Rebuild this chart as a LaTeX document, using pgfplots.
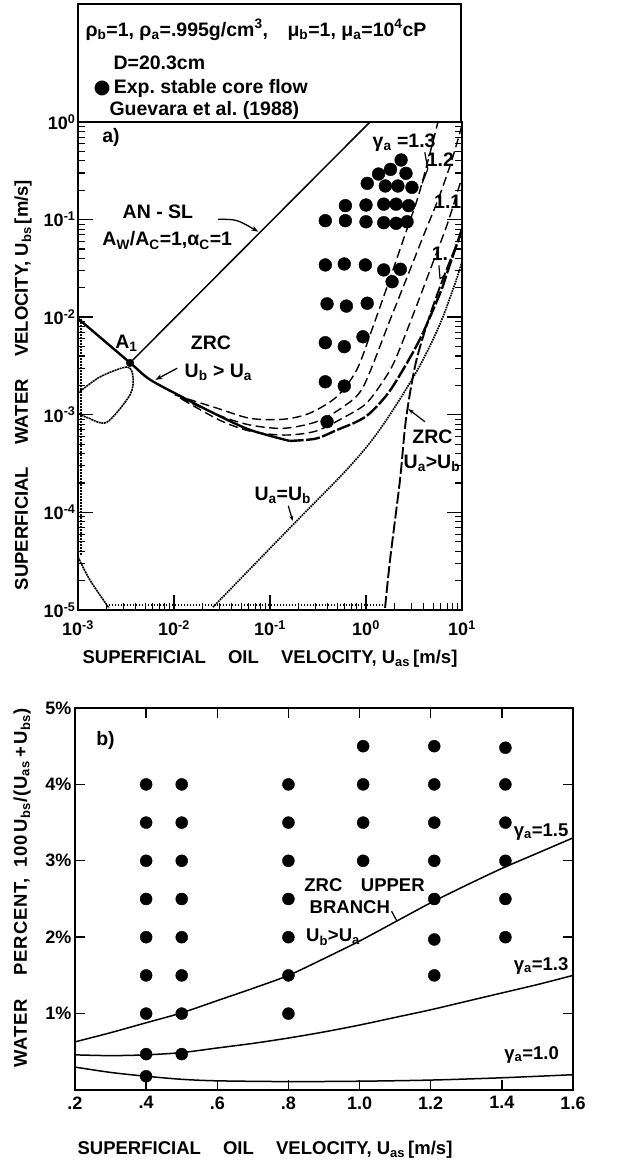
\documentclass[border=0pt]{standalone}
\usepackage{pgfplots}
\pgfplotsset{compat=1.18}
\usepackage{fontspec}
\setmainfont{Liberation Sans}
\newfontfamily\symfont{DejaVu Sans}
\usetikzlibrary{arrows.meta}

\newcommand{\lab}{\fontsize{18.5}{21}\selectfont\bfseries}
\newcommand{\tck}{\fontsize{18}{20}\selectfont\bfseries}
\newcommand{\ann}{\fontsize{19.5}{22}\selectfont\bfseries}
\newcommand{\hdr}{\fontsize{19.5}{22}\selectfont\bfseries}
\newcommand{\sub}[1]{\textsubscript{#1}}
\newcommand{\sps}[1]{\textsuperscript{#1}}

\begin{document}
\begin{tikzpicture}[font=\ann]
\useasboundingbox (0pt,0pt) rectangle (626pt,1165pt);

% ---------------- header box ----------------
\draw[line width=1.6pt] (78pt,1043pt) rectangle (461pt,1161pt);
\node[anchor=west,font=\hdr] at (82pt,1135pt) {ρ\sub{b}=1, ρ\sub{a}=.995g/cm\sps{3},\quad μ\sub{b}=1, μ\sub{a}=10\sps{4}cP};
\node[anchor=west,font=\hdr] at (110pt,1102pt) {D=20.3cm};
\node[anchor=west,font=\hdr] at (90pt,1077pt) {{\symfont ●}\,Exp.\ stable core flow};
\node[anchor=west,font=\hdr] at (106pt,1055pt) {Guevara et al.\ (1988)};

% ---------------- panel a ----------------
\begin{axis}[
  at={(78pt,555pt)}, anchor=south west,
  scale only axis, width=384pt, height=488pt,
  xmode=log, ymode=log,
  xmin=1e-3, xmax=10, ymin=1e-5, ymax=1,
  axis line style={line width=1.9pt},
  tick align=inside, tick style={black},
  xtick pos=left, ytick pos=both,
  major tick length=15pt, minor tick length=7pt,
  every major tick/.append style={line width=1.4pt},
  every minor tick/.append style={line width=1.1pt},
  xtick={1e-3,1e-2,1e-1,1,10},
  xticklabels={10\sps{-3},10\sps{-2},10\sps{-1},10\sps{0},10\sps{1}},
  ytick={1e-5,1e-4,1e-3,1e-2,1e-1,1},
  yticklabels={10\sps{-5},10\sps{-4},10\sps{-3},10\sps{-2},10\sps{-1},10\sps{0}},
  tick label style={font=\tck},
  xticklabel style={yshift=-7pt},
  yticklabel style={xshift=1pt},
]
% AN-SL line
\addplot[line width=1.5pt] coordinates {(0.00348,0.0034) (1.10,1.0)};
% ZRC, U_b > U_a, gamma_a = 1
\addplot[line width=2.4pt, smooth] coordinates {
  (0.001,0.0097) (0.0035,0.0034) (0.0056,0.0023) (0.0125,0.0015)
  (0.028,0.001) (0.062,0.0007) (0.16,0.00054)};
\addplot[line width=2.4pt, smooth, dash pattern=on 14pt off 2.5pt] coordinates {
  (0.16,0.00054) (0.3,0.00057) (0.5,0.0007) (0.8,0.00085) (1.1,0.00104)
  (1.8,0.0018) (3.5,0.0055) (5.9,0.0175) (7,0.0285) (10,0.08)};
% gamma_a = 1.1, 1.2, 1.3
\addplot[line width=1.4pt, smooth, dash pattern=on 9pt off 4.5pt] coordinates {
  (0.012,0.00145) (0.03,0.00088) (0.062,0.00068) (0.14,0.00062) (0.3,0.00068)
  (0.6,0.00095) (1.0,0.0013) (1.5,0.0022) (2.0,0.0036) (3.24,0.0119)
  (4.87,0.0343) (6.98,0.088) (9.08,0.2) (10,0.27)};
\addplot[line width=1.4pt, smooth, dash pattern=on 9pt off 4.5pt] coordinates {
  (0.01155,0.00149) (0.03,0.00098) (0.062,0.000786) (0.138,0.000727)
  (0.306,0.00085) (0.58,0.00121) (0.937,0.00194) (1.78,0.00936)
  (2.87,0.0305) (4.12,0.075) (5.7,0.165) (7.8,0.4) (10,0.93)};
\addplot[line width=1.4pt, smooth, dash pattern=on 9pt off 4.5pt] coordinates {
  (0.0102,0.0016) (0.028,0.00117) (0.062,0.00092) (0.138,0.0009)
  (0.26,0.00104) (0.495,0.00153) (0.8,0.00288) (1.155,0.0075)
  (1.78,0.025) (2.55,0.07) (3.48,0.17) (4.64,0.48) (5.62,1.0)};
% U_a = U_b
\addplot[line width=1.7pt, smooth, dash pattern=on 1.6pt off 0.9pt] coordinates {
  (0.0255,1.07e-5) (0.174,7.5e-5) (0.6,2.6e-4) (1.155,5.5e-4) (2.0,1.2e-3)
  (3.65,3.2e-3) (5.9,8.5e-3) (8.45,0.022) (10,0.037)};
% ZRC, U_a > U_b
\addplot[line width=1.9pt, smooth, dash pattern=on 12pt off 3pt] coordinates {
  (1.58,1.05e-5) (1.78,3.25e-5) (2.26,2.15e-4) (2.61,9e-4) (3.3,3.4e-3)
  (4.64,0.0105) (6.65,0.028) (10,0.075)};
% lower-left boundaries
\addplot[line width=1.6pt, smooth, dash pattern=on 2pt off 0.7pt] coordinates {
  (0.001,0.00167) (0.00169,0.00244) (0.00324,0.00309) (0.00374,0.00244)
  (0.00348,0.0016) (0.002,0.00084) (0.00127,0.00093) (0.001,0.00104)};
\addplot[line width=1.6pt, smooth, dash pattern=on 2pt off 0.7pt] coordinates {
  (0.001,3.5e-5) (0.00133,2.03e-5) (0.0021,1.05e-5)};
\addplot[line width=1.8pt, dash pattern=on 1.2pt off 1.8pt] coordinates {
  (0.00107,0.0095) (0.00107,3.6e-5)};
\addplot[line width=1.8pt, dash pattern=on 1.2pt off 1.8pt] coordinates {
  (0.0021,1.12e-5) (1.5,1.12e-5)};
% experimental stable core flow
\addplot[only marks, mark=*, mark size=6.4pt, black] coordinates {
  (2.32,0.408)
  (1.35,0.293) (1.80,0.327) (2.61,0.298)
  (1.03,0.235) (1.59,0.221) (2.15,0.221) (3.01,0.214)
  (0.61,0.139) (1.00,0.141) (1.53,0.144) (2.06,0.144) (2.78,0.139)
  (0.377,0.0975) (0.61,0.0975) (1.00,0.095) (1.53,0.093) (2.06,0.0916) (2.68,0.095)
  (0.377,0.0343) (0.594,0.0351) (0.984,0.0343) (1.53,0.0305) (2.28,0.031) (1.87,0.0231)
  (0.393,0.0137) (0.625,0.013) (1.03,0.0139)
  (0.377,0.00548) (0.594,0.00499) (0.93,0.0063)
  (0.377,0.00218) (0.594,0.00197)
  (0.393,0.00085)};
% point A1
\addplot[only marks, mark=*, mark size=3.8pt, black] coordinates {(0.00348,0.0034)};

\node at (axis cs:0.0032,0.0054) {A\sub{1}};
\node[anchor=west] at (axis cs:0.00165,0.69) {a)};
\node at (axis cs:0.0068,0.12) {AN - SL};
\node at (axis cs:0.0085,0.061) {A\sub{W}/A\sub{C}=1,α\sub{C}=1};
\draw[line width=1.3pt,-{Stealth[length=7pt,width=5pt]}] (axis cs:0.0289,0.1007) .. controls (axis cs:0.045,0.1007) .. (axis cs:0.0755,0.0752);
\node at (axis cs:0.0243,0.0055) {ZRC};
\node at (axis cs:0.029,0.0027) {U\sub{b} > U\sub{a}};
\draw[line width=1.3pt,-{Stealth[length=7pt,width=5pt]}] (axis cs:0.0108,0.003) -- (axis cs:0.0064,0.00228);
\node[anchor=west] at (axis cs:1.08,0.62) {γ\sub{a} =1.3};
\draw[line width=1.2pt] (axis cs:4.1,0.49) -- (axis cs:4.4,0.33) -- (axis cs:3.85,0.235);
\node at (axis cs:5.95,0.41) {1.2};
\node at (axis cs:7.1,0.151) {1.1};
\node at (axis cs:5.9,0.045) {1.};
\draw[line width=1.2pt,-{Stealth[length=5pt,width=4pt]}] (axis cs:5.75,0.034) -- (axis cs:5.9,0.025) -- (axis cs:6.9,0.0265);
\node at (axis cs:0.136,1.5e-4) {U\sub{a}=U\sub{b}};
\draw[line width=1.2pt,-{Stealth[length=5pt,width=4pt]}] (axis cs:0.155,1.17e-4) -- (axis cs:0.172,8.2e-5);
\node[anchor=west] at (axis cs:2.8,5.9e-4) {ZRC};
\node[anchor=east,inner sep=1pt] at (axis cs:9.85,3.2e-4) {U\sub{a}>U\sub{b}};
\draw[line width=1.2pt,-{Stealth[length=6pt,width=4pt]}] (axis cs:4.1,8.5e-4) -- (axis cs:2.75,1.15e-3);
\end{axis}

\node[font=\lab] at (270pt,506pt) {SUPERFICIAL\hspace{1.2em}OIL\hspace{1.2em}VELOCITY, U\sub{as}\,[m/s]};
\node[font=\lab,rotate=90] at (23pt,780pt) {SUPERFICIAL\hspace{1.2em}WATER\hspace{1.2em}VELOCITY, U\sub{bs}\,[m/s]};

% ---------------- panel b ----------------
\begin{axis}[
  at={(75pt,75pt)}, anchor=south west,
  scale only axis, width=498pt, height=382pt,
  xmin=0.2, xmax=1.6, ymin=0, ymax=5,
  axis line style={line width=1.7pt},
  tick align=inside, tick style={black},
  major tick length=10pt,
  every major tick/.append style={line width=1.4pt},
  xtick={0.2,0.4,0.6,0.8,1.0,1.2,1.4,1.6},
  xticklabels={.2,.4,.6,.8,1.0,1.2,1.4,1.6},
  ytick={1,2,3,4,5},
  yticklabels={1\%,2\%,3\%,4\%,5\%},
  tick label style={font=\tck},
  xticklabel style={yshift=-3pt},
]
% gamma_a = 1.5 (ZRC upper branch)
\addplot[line width=1.5pt, smooth] coordinates {
  (0.2,0.63) (0.3,0.75) (0.4,0.88) (0.5,1.01) (0.6,1.17) (0.7,1.33) (0.8,1.5)
  (0.9,1.72) (1.0,1.95) (1.1,2.2) (1.2,2.45) (1.3,2.68) (1.4,2.9) (1.5,3.1) (1.6,3.3)};
% gamma_a = 1.3
\addplot[line width=1.5pt, smooth] coordinates {
  (0.2,0.46) (0.3,0.45) (0.4,0.46) (0.5,0.49) (0.6,0.55) (0.7,0.61) (0.8,0.68)
  (0.9,0.76) (1.0,0.85) (1.1,0.95) (1.2,1.05) (1.3,1.16) (1.4,1.27) (1.5,1.38) (1.6,1.5)};
% gamma_a = 1.0
\addplot[line width=1.5pt, smooth] coordinates {
  (0.2,0.3) (0.3,0.23) (0.4,0.18) (0.5,0.14) (0.6,0.12) (0.8,0.11)
  (1.0,0.115) (1.2,0.13) (1.4,0.16) (1.6,0.2)};
% experimental stable core flow
\addplot[only marks, mark=*, mark size=6pt, black] coordinates {
  (0.40,4) (0.40,3.5) (0.40,3) (0.40,2.5) (0.40,2) (0.40,1.5) (0.40,1) (0.40,0.47) (0.40,0.18)
  (0.50,4) (0.50,3.5) (0.50,3) (0.50,2.5) (0.50,2) (0.50,1.5) (0.50,1) (0.50,0.47)
  (0.80,4) (0.80,3.5) (0.80,3) (0.80,2.5) (0.80,2) (0.80,1.5) (0.80,1)
  (1.01,4.5) (1.01,4) (1.01,3.5) (1.01,3)
  (1.21,4.5) (1.21,4) (1.21,3.5) (1.21,3) (1.21,2.5) (1.21,1.97) (1.21,1.5)
  (1.41,4.48) (1.41,4) (1.41,3.5) (1.41,3) (1.41,2.5) (1.41,2)};

\node[anchor=west] at (axis cs:0.25,4.58) {b)};
\node[anchor=west,font=\lab] at (axis cs:0.835,2.68) {ZRC\hspace{1em}UPPER};
\node[anchor=west,font=\lab] at (axis cs:0.85,2.4) {BRANCH};
\node[anchor=west,font=\lab] at (axis cs:0.84,2.0) {U\sub{b}>U\sub{a}};
\draw[line width=1.2pt] (axis cs:1.09,2.34) -- (axis cs:1.104,2.22);
\node[anchor=east,font=\lab] at (axis cs:1.597,3.38) {γ\sub{a}=1.5};
\node[anchor=east,font=\lab] at (axis cs:1.597,1.63) {γ\sub{a}=1.3};
\node[anchor=east,font=\lab] at (axis cs:1.57,0.46) {γ\sub{a}=1.0};
\end{axis}

\node[font=\lab] at (265pt,15pt) {SUPERFICIAL\hspace{1.2em}OIL\hspace{1.2em}VELOCITY, U\sub{as}\,[m/s]};
\node[font=\lab,rotate=90] at (22pt,277pt) {\addfontfeature{LetterSpace=4}WATER\hspace{1.3em}PERCENT,\hspace{0.6em}100\,U\sub{bs}/(U\sub{as}\,+\,U\sub{bs})};
\end{tikzpicture}
\end{document}
